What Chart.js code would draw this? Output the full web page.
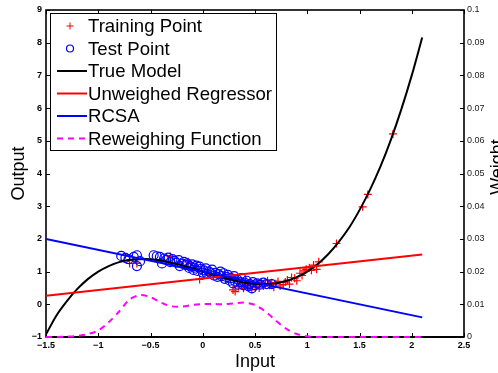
<!DOCTYPE html>
<html>
<head>
<meta charset="utf-8">
<script src="https://cdn.jsdelivr.net/npm/chart.js@4"></script>
<style>
  html, body { margin: 0; padding: 0; background: #fff; overflow: hidden; }
</style>
</head>
<body>
<canvas id="myChart" width="498" height="373"></canvas>
<script>
// tick labels
const xTickLabels = ['\u22121.5', '\u22121', '\u22120.5', '0', '0.5', '1', '1.5', '2', '2.5'];
const yTickLabels = ['\u22121', '0', '1', '2', '3', '4', '5', '6', '7', '8', '9'];
const y2TickLabels = ['0', '0.01', '0.02', '0.03', '0.04', '0.05', '0.06', '0.07', '0.08', '0.09', '0.1'];

// true model curve
const modelX = [-1.5, -1.4, -1.3, -1.2, -1.1, -1.0, -0.9, -0.8, -0.7, -0.6, -0.5, -0.4, -0.3, -0.2, -0.1, 0.0,
  0.1, 0.2, 0.3, 0.4, 0.5, 0.6, 0.7, 0.8, 0.9, 1.0, 1.1, 1.2, 1.3, 1.4, 1.5, 1.6, 1.7, 1.8, 1.9, 2.0, 2.1];
const modelY = [-0.92, -0.34, 0.10, 0.47, 0.77, 1.00, 1.17, 1.29, 1.36, 1.38, 1.38, 1.34, 1.27, 1.19, 1.10, 1.00,
  0.90, 0.81, 0.73, 0.66, 0.63, 0.62, 0.64, 0.71, 0.83, 1.00, 1.23, 1.53, 1.90, 2.34, 2.88, 3.50, 4.21, 5.03, 5.96, 7.00, 8.16];

// regression lines
const regX = [-1.5, 2.1];
const unweighedY = [0.26, 1.52];
const rcsaY = [2.0, -0.40];

// reweighing function (right axis)
const weightY = [0, 0, 0.0001, 0.0003, 0.0009, 0.002, 0.0045, 0.0078, 0.0115, 0.0128, 0.0122, 0.0105, 0.0094, 0.0093, 0.0098, 0.0101,
  0.0101, 0.0100, 0.0103, 0.0105, 0.0098, 0.0078, 0.0050, 0.0025, 0.0009, 0.0002, 0, 0, 0, 0, 0, 0, 0, 0, 0, 0, 0];

// training points
const trainX = [-0.70, -0.63, -0.31, -0.14, -0.03, 0.05, 0.18, 0.29, 0.31, 0.34, 0.37, 0.39, 0.41, 0.43, 0.45, 0.47, 0.50, 0.52,
  0.54, 0.56, 0.58, 0.60, 0.62, 0.64, 0.66, 0.68, 0.70, 0.72, 0.74, 0.77, 0.79, 0.81, 0.83, 0.85, 0.88, 0.90, 0.93, 0.95,
  0.97, 0.99, 1.02, 1.04, 1.06, 1.09, 1.11, 1.28, 1.53, 1.58, 1.82];
const trainY = [1.25, 1.25, 1.46, 1.30, 0.76, 0.90, 0.80, 0.44, 0.39, 0.54, 0.60, 0.49, 0.57, 0.52, 0.62, 0.45, 0.55, 0.64,
  0.50, 0.68, 0.56, 0.62, 0.72, 0.58, 0.66, 0.52, 0.63, 0.70, 0.56, 0.60, 0.68, 0.74, 0.62, 0.82, 0.80, 0.72, 0.95, 0.88,
  1.02, 1.07, 1.12, 1.04, 1.20, 1.07, 1.30, 1.86, 2.98, 3.36, 5.21];

// test points
const testX = [-0.78, -0.74, -0.71, -0.66, -0.63, -0.63, -0.60, -0.47, -0.44, -0.41, -0.39, -0.37, -0.35, -0.33, -0.31, -0.29,
  -0.27, -0.25, -0.23, -0.22, -0.20, -0.18, -0.16, -0.15, -0.13, -0.12, -0.10, -0.09, -0.08, -0.06, -0.05, -0.03, -0.02,
  0.00, 0.01, 0.03, 0.04, 0.06, 0.08, 0.09, 0.11, 0.12, 0.14, 0.15, 0.17, 0.18, 0.20, 0.21, 0.23, 0.24, 0.26, 0.27, 0.29,
  0.30, 0.31, 0.33, 0.34, 0.36, 0.37, 0.39, 0.40, 0.42, 0.44, 0.45, 0.47, 0.48, 0.50, 0.52, 0.55, 0.58, 0.61, 0.66];
const testY = [1.48, 1.42, 1.38, 1.45, 1.50, 1.17, 1.32, 1.50, 1.47, 1.45, 1.25, 1.40, 1.36, 1.43, 1.29, 1.38,
  1.33, 1.27, 1.35, 1.17, 1.24, 1.30, 1.20, 1.25, 1.11, 1.16, 1.22, 1.05, 1.12, 1.18, 1.02, 1.15, 1.08,
  0.97, 1.04, 1.10, 0.93, 1.00, 0.95, 1.06, 0.88, 0.96, 0.84, 0.92, 1.00, 0.86, 0.95, 0.78, 0.83, 0.90, 0.72, 0.80, 0.64,
  0.86, 0.70, 0.76, 0.60, 0.68, 0.80, 0.58, 0.66, 0.72, 0.55, 0.62, 0.49, 0.68, 0.58, 0.64, 0.60, 0.66, 0.62, 0.62];

const toPoints = (xs, ys) => xs.map((x, i) => ({ x: x, y: ys[i] }));

const tickFont = { family: 'Liberation Sans', size: 9, weight: 'bold' };

// frame + inward ticks under the data, right title and legend box on top
const matlabFrame = {
  id: 'matlabFrame',
  beforeDatasetsDraw(chart) {
    const ctx = chart.ctx;
    const a = chart.chartArea;
    const sx = chart.scales.x, sy = chart.scales.y;
    ctx.save();
    ctx.strokeStyle = '#000';
    ctx.lineWidth = 1;
    xTickLabels.forEach((l, i) => {
      const px = Math.round(sx.getPixelForValue(-1.5 + i * 0.5)) + 0.5;
      ctx.beginPath();
      ctx.moveTo(px, a.bottom); ctx.lineTo(px, a.bottom - 4);
      ctx.moveTo(px, a.top); ctx.lineTo(px, a.top + 4);
      ctx.stroke();
    });
    yTickLabels.forEach((l, i) => {
      const py = Math.round(sy.getPixelForValue(-1 + i)) + 0.5;
      ctx.beginPath();
      ctx.moveTo(a.left, py); ctx.lineTo(a.left + 4, py);
      ctx.moveTo(a.right, py); ctx.lineTo(a.right - 4, py);
      ctx.stroke();
    });
    ctx.lineWidth = 1.6;
    ctx.strokeRect(a.left, a.top, a.right - a.left, a.bottom - a.top);
    ctx.lineWidth = 2;
    ctx.beginPath();
    ctx.moveTo(a.left, a.bottom); ctx.lineTo(a.right, a.bottom);
    ctx.stroke();
    ctx.restore();
  },
  afterDraw(chart) {
    const ctx = chart.ctx;
    ctx.save();
    // right axis title
    ctx.fillStyle = '#000';
    ctx.font = '18px "Liberation Sans"';
    ctx.translate(503, 167);
    ctx.rotate(-Math.PI / 2);
    ctx.textAlign = 'center';
    ctx.textBaseline = 'alphabetic';
    ctx.fillText('Weight', 0, 0);
    ctx.restore();

    // legend
    ctx.save();
    ctx.fillStyle = '#fff';
    ctx.fillRect(50, 13, 226, 137);
    ctx.strokeStyle = '#000';
    ctx.lineWidth = 1;
    ctx.strokeRect(50.5, 13.5, 226, 137);
    ctx.font = '18.6px "Liberation Sans"';
    ctx.textBaseline = 'middle';
    ctx.textAlign = 'left';
    chart.data.datasets.forEach((ds, i) => {
      const cy = 26 + i * 22.5;
      if (ds.showLine) {
        ctx.strokeStyle = ds.borderColor;
        ctx.lineWidth = ds.borderWidth;
        ctx.setLineDash(ds.borderDash || []);
        ctx.beginPath();
        ctx.moveTo(57, cy); ctx.lineTo(87, cy);
        ctx.stroke();
        ctx.setLineDash([]);
      } else if (ds.pointStyle === 'cross') {
        ctx.strokeStyle = ds.borderColor;
        ctx.lineWidth = 1;
        ctx.beginPath();
        ctx.moveTo(66.5, cy); ctx.lineTo(73.5, cy);
        ctx.moveTo(70, cy - 3.5); ctx.lineTo(70, cy + 3.5);
        ctx.stroke();
      } else {
        ctx.strokeStyle = ds.borderColor;
        ctx.lineWidth = 1.2;
        ctx.beginPath();
        ctx.arc(70, cy, 3.5, 0, Math.PI * 2);
        ctx.stroke();
      }
      ctx.fillStyle = '#000';
      ctx.fillText(ds.label, 88, cy + 1);
    });
    ctx.restore();
  }
};

const ctx = document.getElementById('myChart').getContext('2d');

const myChart = new Chart(ctx, {
  type: 'scatter',
  data: {
    datasets: [{
      label: 'Training Point',
      data: toPoints(trainX, trainY),
      showLine: false,
      pointStyle: 'cross',
      pointRadius: 4,
      borderColor: '#ff0000',
      borderWidth: 1.2,
      order: 6,
    }, {
      label: 'Test Point',
      data: toPoints(testX, testY),
      showLine: false,
      pointStyle: 'circle',
      pointRadius: 4.5,
      borderColor: '#0000ff',
      backgroundColor: 'rgba(0,0,0,0)',
      borderWidth: 1.2,
      order: 5,
    }, {
      label: 'True Model',
      data: toPoints(modelX, modelY),
      showLine: true,
      borderColor: '#000000',
      borderWidth: 2,
      pointRadius: 0,
      tension: 0.3,
      order: 4,
    }, {
      label: 'Unweighed Regressor',
      data: toPoints(regX, unweighedY),
      showLine: true,
      borderColor: '#ff0000',
      borderWidth: 2,
      pointRadius: 0,
      order: 3,
    }, {
      label: 'RCSA',
      data: toPoints(regX, rcsaY),
      showLine: true,
      borderColor: '#0000ff',
      borderWidth: 2,
      pointRadius: 0,
      order: 2,
    }, {
      label: 'Reweighing Function',
      data: toPoints(modelX, weightY),
      yAxisID: 'y2',
      showLine: true,
      borderColor: '#ff00ff',
      borderWidth: 2,
      borderDash: [6, 5],
      pointRadius: 0,
      tension: 0.3,
      clip: 3,
      order: 1,
    }],
  },
  options: {
    responsive: false,
    animation: false,
    layout: { padding: { top: 10, left: 0, right: 0, bottom: 0 } },
    scales: {
      x: {
        type: 'linear',
        min: -1.5,
        max: 2.5,
        grid: { display: false, drawTicks: false },
        border: { display: false },
        ticks: {
          stepSize: 0.5,
          autoSkip: false,
          maxRotation: 0,
          padding: 3,
          color: '#000',
          font: tickFont,
          callback: (v) => xTickLabels[Math.round((v + 1.5) / 0.5)],
        },
        title: {
          display: true,
          text: 'Input',
          color: '#000',
          font: { family: 'Liberation Sans', size: 18 },
          padding: { top: 0, bottom: 0 },
        },
        afterFit: (scale) => { scale.height = 36; },
      },
      y: {
        type: 'linear',
        position: 'left',
        min: -1,
        max: 9,
        grid: { display: false, drawTicks: false },
        border: { display: false },
        ticks: {
          stepSize: 1,
          padding: 4,
          color: '#000',
          font: tickFont,
          callback: (v) => yTickLabels[Math.round(v + 1)],
        },
        title: {
          display: true,
          text: 'Output',
          color: '#000',
          font: { family: 'Liberation Sans', size: 18 },
          padding: { top: 8, bottom: 0 },
        },
        afterFit: (scale) => { scale.width = 46; },
      },
      y2: {
        type: 'linear',
        position: 'right',
        min: 0,
        max: 0.1,
        grid: { display: false, drawTicks: false },
        border: { display: false },
        ticks: {
          stepSize: 0.01,
          padding: 3,
          color: '#222',
          font: { family: 'Liberation Sans', size: 9 },
          callback: (v) => y2TickLabels[Math.round(v * 100)],
        },
        afterFit: (scale) => { scale.width = 34; },
      },
    },
    plugins: {
      legend: { display: false },
      tooltip: { enabled: false },
    },
  },
  plugins: [matlabFrame],
});
</script>
</body>
</html>
